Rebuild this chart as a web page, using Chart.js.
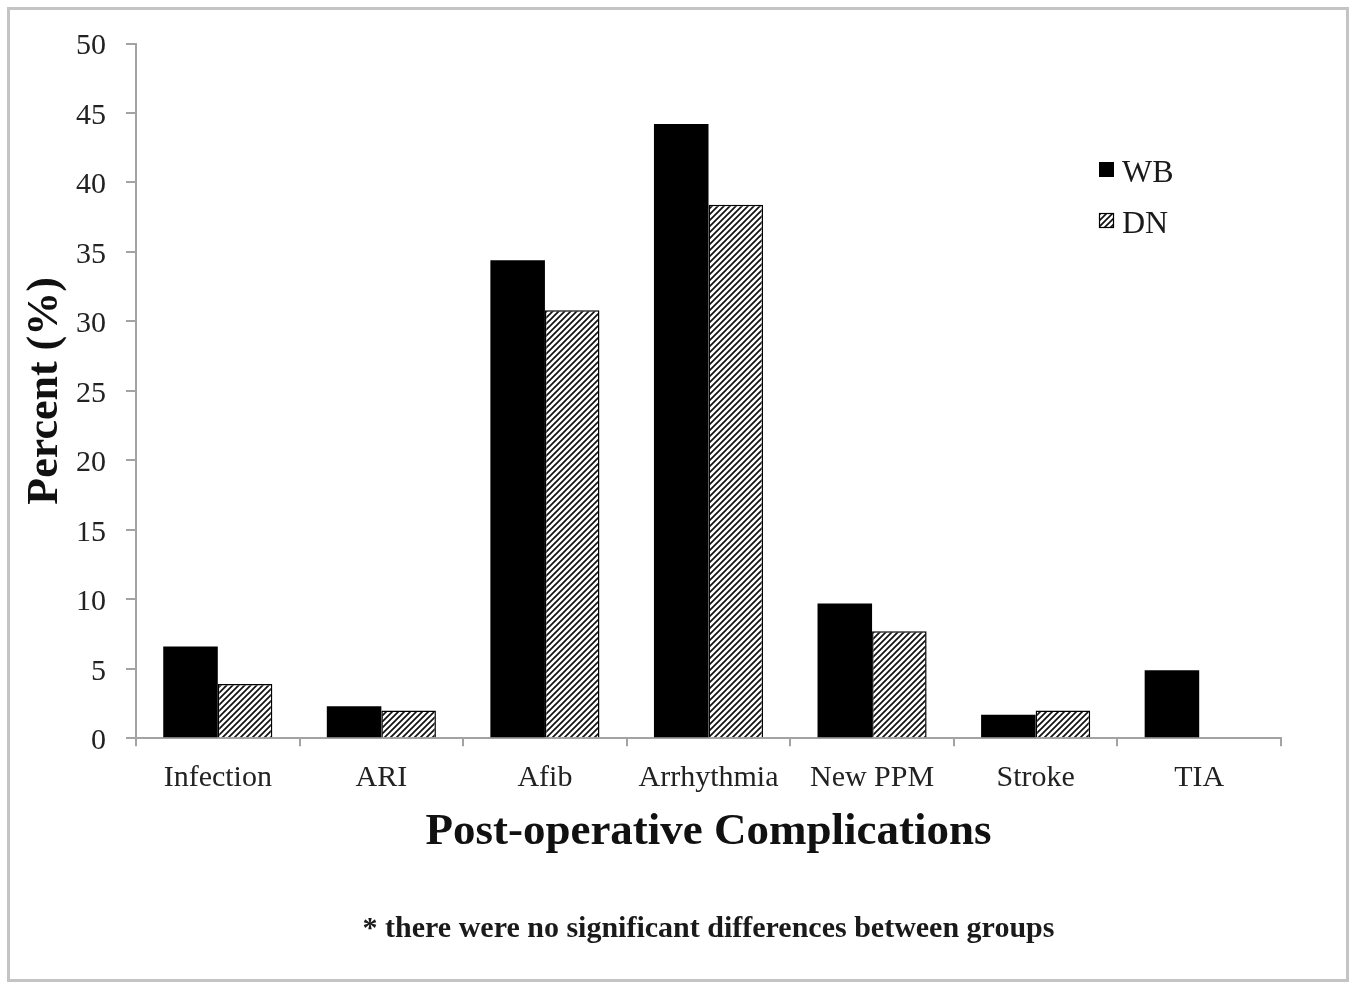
<!DOCTYPE html>
<html>
<head>
<meta charset="utf-8">
<script src="https://cdn.jsdelivr.net/npm/chart.js@4.4.0/dist/chart.umd.min.js"></script>
<style>
  html, body { margin: 0; padding: 0; background: #fff; }
  #wrap { width: 1355px; height: 982px; position: relative; }
</style>
</head>
<body>
<div id="wrap"><canvas id="c" width="1355" height="982"></canvas></div>
<script>
// ---- Data ----
const categories = ['Infection', 'ARI', 'Afib', 'Arrhythmia', 'New PPM', 'Stroke', 'TIA'];
const wbValues = [6.6, 2.3, 34.4, 44.2, 9.7, 1.7, 4.9];
const dnValues = [3.9, 2.0, 30.8, 38.4, 7.7, 2.0, null];
const seriesNames = ['WB', 'DN'];
const yTitle = 'Percent (%)';
const xTitle = 'Post-operative Complications';
const footnote = '* there were no significant differences between groups';

// ---- Hatch pattern ----
function makeHatch() {
  const s = 6;
  const c = document.createElement('canvas');
  c.width = s; c.height = s;
  const g = c.getContext('2d');
  g.fillStyle = '#fff';
  g.fillRect(0, 0, s, s);
  g.strokeStyle = '#111';
  g.lineWidth = 1.7;
  g.beginPath();
  g.moveTo(0, s); g.lineTo(s, 0);
  g.moveTo(-1, 1); g.lineTo(1, -1);
  g.moveTo(s - 1, s + 1); g.lineTo(s + 1, s - 1);
  g.stroke();
  return g.createPattern(c, 'repeat');
}
const hatch = makeHatch();

const SERIF = '"Liberation Serif", "Times New Roman", serif';
const axisGray = '#a3a3a3';

const legendAndExtras = {
  id: 'legendAndExtras',
  afterDraw(chart) {
    const ctx = chart.ctx;
    ctx.save();
    // frame
    ctx.strokeStyle = '#c4c4c4';
    ctx.lineWidth = 3;
    ctx.strokeRect(8.5, 8.5, 1339, 972);
    // legend
    const ys = [162, 213];
    chart.data.datasets.forEach((ds, i) => {
      const y = ys[i];
      ctx.fillStyle = ds.backgroundColor;
      ctx.fillRect(1099, y, 15, 15);
      if (ds.borderWidth) {
        ctx.strokeStyle = '#000';
        ctx.lineWidth = 1.2;
        ctx.strokeRect(1099.5, y + 0.5, 14, 14);
      }
      ctx.fillStyle = '#1a1a1a';
      ctx.font = '32px ' + SERIF;
      ctx.textAlign = 'left';
      ctx.textBaseline = 'middle';
      ctx.fillText(ds.label, 1122, y + 12);
    });
    // footnote
    ctx.fillStyle = '#1a1a1a';
    ctx.font = 'bold 30px ' + SERIF;
    ctx.textAlign = 'center';
    ctx.textBaseline = 'middle';
    const ca = chart.chartArea;
    ctx.fillText(footnote, (ca.left + ca.right) / 2, 929);
    ctx.restore();
  }
};

new Chart(document.getElementById('c'), {
  type: 'bar',
  data: {
    labels: categories,
    datasets: [
      { label: seriesNames[0], data: wbValues, backgroundColor: '#000', borderWidth: 0 },
      { label: seriesNames[1], data: dnValues, backgroundColor: hatch, borderColor: '#000', borderWidth: 1.5 }
    ]
  },
  options: {
    responsive: false,
    animation: false,
    devicePixelRatio: 1,
    layout: { padding: { left: 0, top: 43.5, right: 74, bottom: 122.6 } },
    datasets: { bar: { categoryPercentage: 0.667, barPercentage: 1.0 } },
    plugins: {
      legend: { display: false },
      tooltip: { enabled: false }
    },
    scales: {
      x: {
        offset: true,
        grid: { display: true, offset: true, drawOnChartArea: false, drawTicks: true, tickLength: 8, color: axisGray, lineWidth: 2 },
        border: { display: true, color: axisGray, width: 2 },
        ticks: { color: '#222', font: { family: SERIF, size: 30 }, padding: 14, maxRotation: 0, autoSkip: false },
        title: { display: true, text: xTitle, color: '#111', font: { family: SERIF, size: 45, weight: 'bold' }, padding: { top: 0, bottom: 0 } },
        afterFit(scale) { scale.height = 121.1; }
      },
      y: {
        min: 0, max: 50,
        grid: { display: true, drawOnChartArea: false, drawTicks: true, tickLength: 10, color: axisGray, lineWidth: 2 },
        border: { display: true, color: axisGray, width: 2 },
        ticks: { stepSize: 5, color: '#222', font: { family: SERIF, size: 30 }, padding: 20, labelOffset: 3 },
        title: { display: true, text: yTitle, color: '#111', font: { family: SERIF, size: 44, weight: 'bold' }, padding: { top: 19, bottom: 0 } },
        afterFit(scale) { scale.width = 136; }
      }
    }
  },
  plugins: [legendAndExtras]
});
</script>
</body>
</html>
